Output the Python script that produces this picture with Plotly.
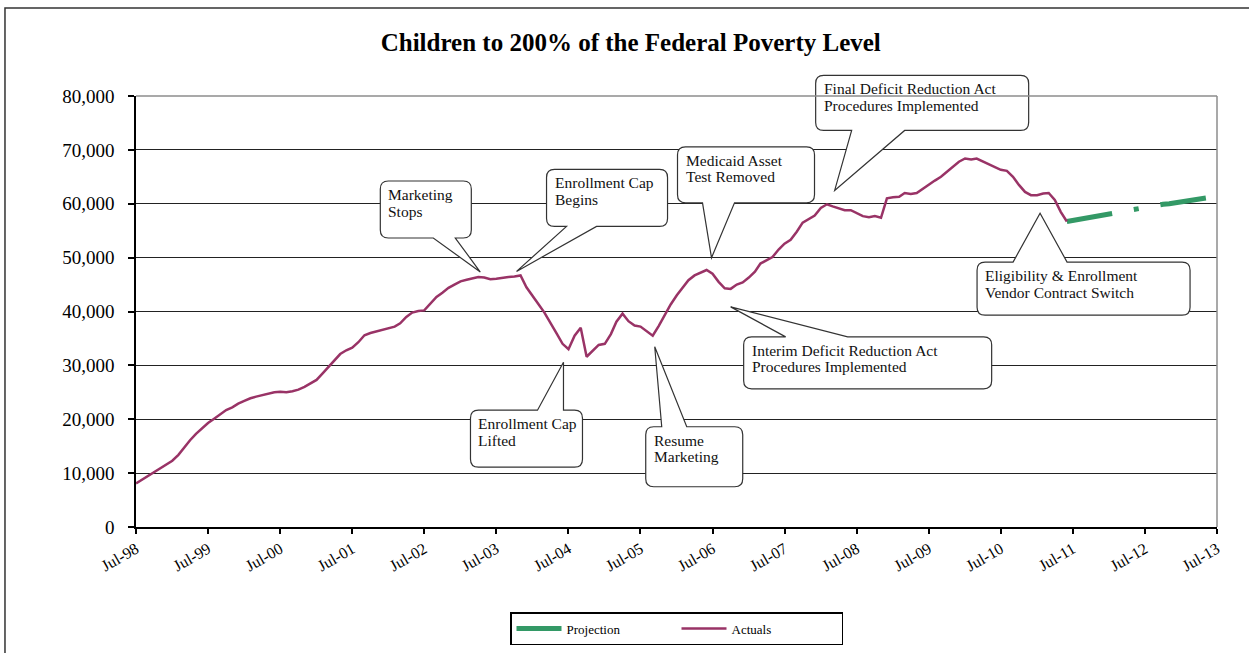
import pandas as pd
import plotly.graph_objects as go

# Monthly enrollment, children to 200% FPL, starting Jul-1998
actual_start = "1998-07-01"
actuals = [
    8100, 8800, 9500, 10200, 11000, 11600, 12300, 13400, 14700, 16100, 17300, 18400,
    19300, 20100, 20900, 21700, 22200, 22900, 23400, 23900, 24200, 24500, 24700, 25000,
    25100, 25000, 25200, 25500, 26000, 26600, 27300, 28500, 29700, 30900, 32100, 32800,
    33300, 34300, 35600, 36000, 36300, 36500, 36900, 37200, 37800, 39000, 39800, 40100,
    40200, 41400, 42700, 43500, 44400, 45000, 45600, 45900, 46200, 46400, 46300, 46000,
    46100, 46300, 46400, 46500, 46700, 44500, 42800, 41300, 39800, 38000, 36000, 34000,
    33000, 35500, 37000, 31600, 32800, 33800, 34000, 35800, 38100, 39600, 38200, 37400,
    37200, 36300, 35500, 37300, 39400, 41300, 43000, 44400, 45800, 46700, 47200, 47700,
    47000, 45500, 44300, 44200, 45000, 45400, 46300, 47400, 48900, 49500, 50100, 51500,
    52600, 53300, 54800, 56500, 57200, 57800, 59200, 59900, 59500, 59100, 58800, 58800,
    58200, 57700, 57500, 57700, 57400, 61000, 61200, 61300, 62000, 61800, 62000, 62800,
    63600, 64300, 65000, 65900, 67000, 67800, 68400, 68200, 68400, 67900, 67400, 66900,
    66300, 66100, 65000, 63500, 62200, 61600, 61600, 61900, 62000, 60700, 58500, 56700,
]

# Monthly projection, Jun-2011 through Jul-2013
projection_start = "2011-06-01"
projection = [
    56700, 56900, 57100, 57300, 57500, 57700, 57900, 58100, 58300, 58600, 58800, 59000,
    59200, 59400, 59600, 59700, 59900, 60000, 60200, 60400, 60600, 60700, 60900, 61000,
    61200, 61300,
]

actual_dates = pd.date_range(actual_start, periods=len(actuals), freq="MS").strftime("%Y-%m-%d").tolist()
projection_dates = pd.date_range(projection_start, periods=len(projection), freq="MS").strftime("%Y-%m-%d").tolist()

x_range = ["1998-07-01", "2013-07-01"]
y_max = 80000

SERIF = "Liberation Serif, Times New Roman, serif"
PLUM = "#993366"
SEA_GREEN = "#339966"

# Event callouts: text lines, the month they point at, and the callout
# geometry in pixels relative to that point (tip offset, box edges, tail base).
events = [
    dict(lines=["Marketing", "Stops"], date="2003-04-01",
         tip=(2, 5), box=(-100, -9, -91, -34), tail=(-47, -25)),
    dict(lines=["Enrollment Cap", "Begins"], date="2003-11-01",
         tip=(-4, 4), box=(30, 151, -102, -45), tail=(50, 80)),
    dict(lines=["Medicaid Asset", "Test Removed"], date="2006-07-01",
         tip=(-1, 16), box=(-34, 103, -111, -55), tail=(-9, 23)),
    dict(lines=["Final Deficit Reduction Act", "Procedures Implemented"], date="2008-03-01",
         tip=(2, 16), box=(-19, 194, -115, -60), tail=(17, 70)),
    dict(lines=["Eligibility & Enrollment", "Vendor Contract Switch"], date="2011-01-01",
         tip=(3, -18), box=(-63, 150, 49, 102), tail=(-27, 27)),
    dict(lines=["Interim Deficit Reduction Act", "Procedures Implemented"], date="2006-10-01",
         tip=(0, -18), box=(13, 261, 30, 82), tail=(55, 117)),
    dict(lines=["Enrollment Cap", "Lifted"], date="2004-07-01",
         tip=(-5, -13), box=(-93, 19, 48, 105), tail=(-26, 0)),
    dict(lines=["Resume", "Marketing"], date="2005-09-01",
         tip=(2, -11), box=(-9, 88, 80, 140), tail=(7, 32)),
]


def callout_path(tip, box, tail, r=8):
    """Rounded box with a wedge tail, in pixel offsets (y up) from the anchor."""
    dx, dy = tip
    L, R, T, B = box
    a, b = tail

    def p(x, y):
        return f"{dx + x:.1f},{dy - y:.1f}"

    corners_right = [
        f"L{p(R - r, T)}", f"Q{p(R, T)} {p(R, T + r)}",
        f"L{p(R, B - r)}", f"Q{p(R, B)} {p(R - r, B)}",
    ]
    corners_left = [
        f"Q{p(L, B)} {p(L, B - r)}",
        f"L{p(L, T + r)}", f"Q{p(L, T)} {p(L + r, T)}",
    ]
    if B < 0:  # box above the tip, tail leaves the bottom edge
        segs = [f"M{p(L + r, T)}"] + corners_right + [
            f"L{p(b, B)}", f"L{p(0, 0)}", f"L{p(a, B)}", f"L{p(L + r, B)}",
        ] + corners_left
    else:  # box below the tip, tail leaves the top edge
        segs = [f"M{p(L + r, T)}", f"L{p(a, T)}", f"L{p(0, 0)}", f"L{p(b, T)}"] + \
            corners_right + [f"L{p(L + r, B)}"] + corners_left
    return " ".join(segs) + " Z"


fig = go.Figure()

fig.add_trace(go.Scatter(
    x=projection_dates, y=projection, mode="lines", name="Projection",
    line=dict(color=SEA_GREEN, width=5, dash="46px,22px,5px,22px"),
))
fig.add_trace(go.Scatter(
    x=actual_dates, y=actuals, mode="lines", name="Actuals",
    line=dict(color=PLUM, width=2.5),
))

shapes = []
annotations = []
for ev in events:
    value = actuals[actual_dates.index(ev["date"])]
    shapes.append(dict(
        type="path", xref="x", yref="paper",
        xsizemode="pixel", ysizemode="pixel",
        xanchor=ev["date"], yanchor=value / y_max,
        path=callout_path(ev["tip"], ev["box"], ev["tail"]),
        line=dict(color="#333333", width=1.2), fillcolor="white", layer="above",
    ))
    dx, dy = ev["tip"]
    L, R, T, B = ev["box"]
    for i, line in enumerate(ev["lines"]):
        annotations.append(dict(
            x=ev["date"], y=value, xref="x", yref="y", showarrow=False,
            text=line, xanchor="left", yanchor="top", align="left",
            xshift=dx + L + 6, yshift=dy - T - 3 - 16.5 * i,
            font=dict(family=SERIF, size=15.5, color="#111111"),
        ))

# plot-area frame (top and right edges in grey)
shapes += [
    dict(type="line", xref="paper", yref="paper", x0=0, x1=1, y0=1, y1=1,
         line=dict(color="#8c8c8c", width=1.5), layer="above"),
    dict(type="line", xref="paper", yref="paper", x0=1, x1=1, y0=0, y1=1,
         line=dict(color="#8c8c8c", width=1.5), layer="above"),
    # outer chart border
    dict(type="rect", xref="paper", yref="paper", x0=-0.1212, x1=1.12, y0=-0.45, y1=1.2042,
         line=dict(color="#333333", width=1.5), fillcolor="rgba(0,0,0,0)", layer="below"),
]

fig.update_layout(
    width=1249, height=653,
    margin=dict(l=136, r=32, t=96, b=126),
    paper_bgcolor="white", plot_bgcolor="white",
    title=dict(
        text="<b>Children to 200% of the Federal Poverty Level</b>",
        x=0.505, xref="container", xanchor="center",
        y=1 - 42 / 653, yref="container", yanchor="middle",
        font=dict(family=SERIF, size=25, color="black"),
    ),
    xaxis=dict(
        type="date", range=x_range, tick0="1998-07-01", dtick="M12", tickformat="%b-%y",
        tickangle=-30, ticks="outside", ticklen=5, tickwidth=1.5, tickcolor="black",
        showgrid=False, showline=True, linecolor="black", linewidth=1.5,
        tickfont=dict(family=SERIF, size=16, color="black"), zeroline=False,
        automargin=False,
    ),
    yaxis=dict(
        range=[0, y_max], dtick=10000, tickformat=",", ticks="outside", ticklen=6,
        tickwidth=1.5, tickcolor="black", ticklabelstandoff=10,
        showgrid=True, gridcolor="#222222", gridwidth=1.2,
        showline=True, linecolor="black", linewidth=1.5, zeroline=False,
        tickfont=dict(family=SERIF, size=19, color="black"),
        automargin=False,
    ),
    legend=dict(
        orientation="h", x=0.5, xanchor="center",
        yref="container", y=1 - 612 / 653, yanchor="top",
        bordercolor="black", borderwidth=1.5, bgcolor="white",
        font=dict(family=SERIF, size=13, color="black"),
        itemwidth=45, entrywidth=105,
    ),
    shapes=shapes, annotations=annotations,
    showlegend=True,
)

fig.write_html("out.html")
